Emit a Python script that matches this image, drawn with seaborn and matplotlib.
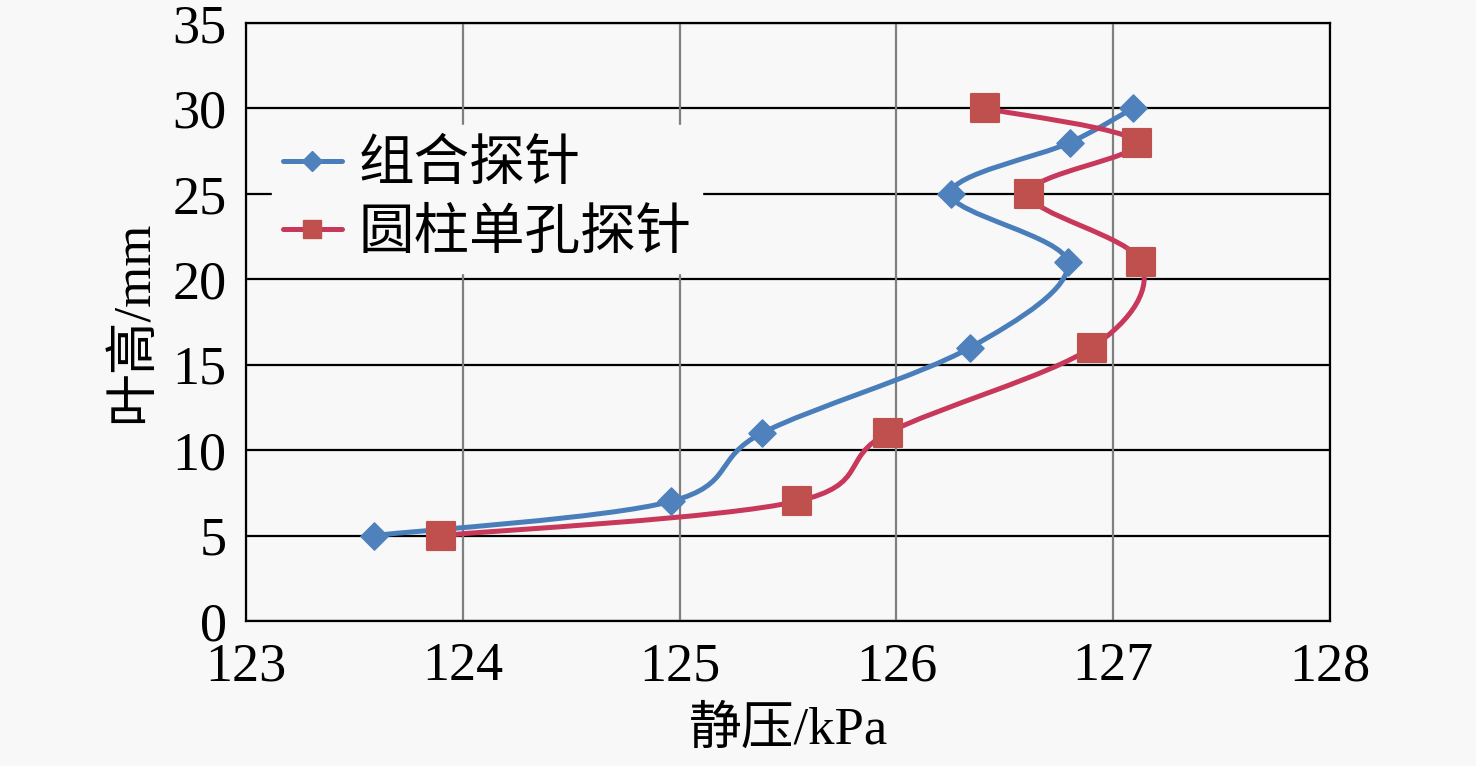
import numpy as np
import pandas as pd
import matplotlib
matplotlib.use("Agg")
import matplotlib.pyplot as plt
import seaborn as sns
from matplotlib.path import Path
from matplotlib.patches import PathPatch
from matplotlib.lines import Line2D

# ---- data ----
heights = [5, 7, 11, 16, 21, 25, 28, 30]
combo_probe = [123.59, 124.96, 125.38, 126.34, 126.79, 126.25, 126.80, 127.09]
cyl_heights = [5, 7, 11, 16, 21, 25, 28, 30]
cyl_probe = [123.90, 125.54, 125.96, 126.90, 127.13, 126.61, 127.11, 126.41]
series_names = ["组合探针", "圆柱单孔探针"]
x_ticks = [123, 124, 125, 126, 127, 128]
y_ticks = [0, 5, 10, 15, 20, 25, 30, 35]

sns.set_theme(style="white")
plt.rcParams['font.family'] = ['Liberation Serif', 'Noto Sans CJK SC']
plt.rcParams['axes.unicode_minus'] = False
plt.rcParams['text.color'] = 'black'
plt.rcParams['axes.labelcolor'] = 'black'
plt.rcParams['xtick.color'] = 'black'
plt.rcParams['ytick.color'] = 'black'

bg = "#f8f8f8"
fig = plt.figure(figsize=(14.76, 7.66), dpi=100, facecolor=bg)
ax = fig.add_axes([0.1667, 0.1893, 0.7344, 0.7807])
ax.set_facecolor(bg)

ax.set_xlim(123, 128)
ax.set_ylim(0, 35)
ax.set_xticks(x_ticks)
ax.set_yticks(y_ticks)
ax.tick_params(labelsize=39, length=0, labelcolor="black")
ax.tick_params(axis="y", pad=14)
ax.tick_params(axis="x", pad=15)
for ln in ax.get_yticks():
    ax.axhline(ln, color="black", lw=1.6, zorder=1)
for ln in ax.get_xticks():
    ax.axvline(ln, color="#808080", lw=1.6, zorder=1)
for s in ax.spines.values():
    s.set_color("black")
    s.set_linewidth(1.6)


def smooth_path(xs, ys):
    pts = np.column_stack([xs, ys]).astype(float)
    n = len(pts)
    verts = [pts[0]]
    codes = [Path.MOVETO]
    for i in range(n - 1):
        p0 = pts[i - 1] if i > 0 else pts[i]
        p1 = pts[i]
        p2 = pts[i + 1]
        p3 = pts[i + 2] if i + 2 < n else pts[i + 1]
        c1 = p1 + (p2 - p0) / 6.0
        c2 = p2 - (p3 - p1) / 6.0
        verts += [c1, c2, p2]
        codes += [Path.CURVE4] * 3
    return Path(verts, codes)


blue_line = "#4a7ebb"
blue_mk = "#4f81bd"
red_line = "#c8385a"
red_mk = "#c0504d"

ax.add_patch(PathPatch(smooth_path(combo_probe, heights), fill=False,
                       edgecolor=blue_line, lw=3.6, zorder=3,
                       transform=ax.transData))
ax.add_patch(PathPatch(smooth_path(cyl_probe, cyl_heights), fill=False,
                       edgecolor=red_line, lw=3.6, zorder=3,
                       transform=ax.transData))

df_b = pd.DataFrame({"p": combo_probe, "h": heights})
df_r = pd.DataFrame({"p": cyl_probe, "h": cyl_heights})
sns.scatterplot(data=df_b, x="p", y="h", marker="D", s=190, color=blue_mk,
                edgecolor=blue_mk, ax=ax, zorder=4)
sns.scatterplot(data=df_r, x="p", y="h", marker="s", s=380, color=red_mk,
                edgecolor=red_mk, ax=ax, zorder=5)

ax.set_xlabel("静压/kPa", fontsize=38, labelpad=10, color="black")
ax.set_ylabel("叶高/mm", fontsize=38, labelpad=10, color="black")

handles = [
    Line2D([0], [0], color=blue_line, lw=3.6, marker="D", markersize=10,
           markerfacecolor=blue_mk, markeredgecolor=blue_mk),
    Line2D([0], [0], color=red_line, lw=3.6, marker="s", markersize=13,
           markerfacecolor=red_mk, markeredgecolor=red_mk),
]
leg = ax.legend(handles, series_names, loc="upper left",
                bbox_to_anchor=(0.024, 0.83), borderaxespad=0,
                frameon=True, fancybox=False,
                facecolor=bg, edgecolor=bg, framealpha=1,
                prop={"size": 40, "family": ['Noto Sans CJK SC']},
                handlelength=1.05, handletextpad=0.3, labelspacing=0.2,
                borderpad=0.2)
leg.set_zorder(6)
for t in leg.get_texts():
    t.set_color("black")

fig.savefig("out.png", dpi=100, facecolor=bg)
